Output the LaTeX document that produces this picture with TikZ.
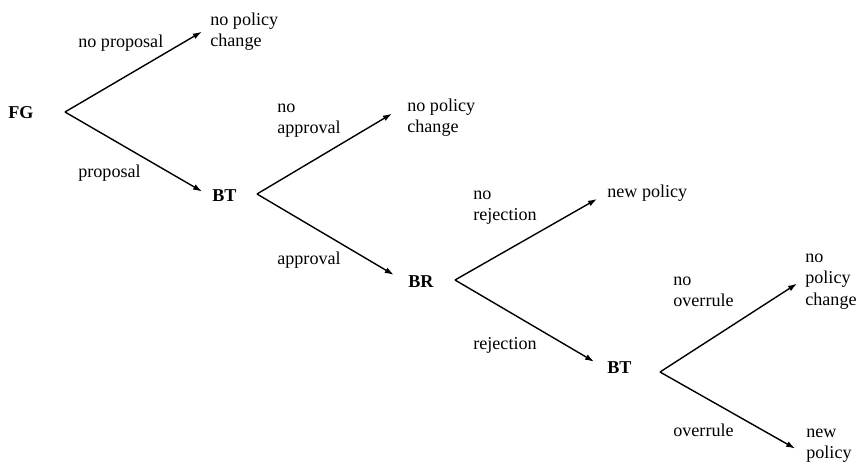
\documentclass[tikz,border=0pt]{standalone}
\usepackage{fontspec}
\setmainfont{Liberation Serif}
\usetikzlibrary{arrows.meta,calc}
\begin{document}
\begin{tikzpicture}[x=0.02cm,y=-0.02cm,
        texto/.style={inner sep=0pt,anchor=north west,align=left,
            font=\fontsize{10.3}{12.2}\selectfont},
        jugador/.style={texto,font=\fontsize{10.3}{12.2}\selectfont\bfseries},
        jugada/.style={line width=0.8pt,-{Latex[length=1.8mm,width=1.2mm]}}]
            \useasboundingbox (0,0) rectangle (857,462);

            % Jugadores
            \node[jugador] (fg) at (8,103.2) {\strut FG};
            \node[jugador] (bt1) at (212,186.2) {\strut BT};
            \node[jugador] (br) at (408,272.2) {\strut BR};
            \node[jugador] (bt2) at (607,358.2) {\strut BT};
            \coordinate (fgv) at (65,112);
            \coordinate (bt1v) at (257,194);
            \coordinate (brv) at (455,280);
            \coordinate (bt2v) at (660,372);

            % Resultados
            \node[texto] (npc1) at (210,10.2) {\strut no policy\\change};
            \node[texto] (npc2) at (407,96.2) {\strut no policy\\change};
            \node[texto] (np1) at (607,182.2) {\strut new policy};
            \node[texto] (npc3) at (805,247.2) {\strut no\\policy\\change};
            \node[texto] (np2) at (806,422.2) {\strut new\\policy};

            % Jugadas
            \draw[jugada,shorten >=1.9mm] (fgv) -- ($(npc1.west)+(0,-3.8)$);
            \draw[jugada,shorten >=2.3mm] (fgv) -- (bt1.west);
            \draw[jugada,shorten >=3.5mm] (bt1v) -- ($(npc2.west)+(0,-12)$);
            \draw[jugada,shorten >=3.3mm] (bt1v) -- (br.west);
            \draw[jugada,shorten >=2.3mm] (brv) -- (np1.west);
            \draw[jugada,shorten >=3mm] (brv) -- (bt2.west);
            \draw[jugada,shorten >=1.9mm] (bt2v) -- (npc3.west);
            \draw[jugada,shorten >=2.5mm] (bt2v) -- ($(np2.west)+(0,12)$);

            % Etiquetas de las jugadas
            \node[texto] (lnp) at (78,32.2) {\strut no proposal};
            \node[texto] (lp) at (78,162.2) {\strut proposal};
            \node[texto] (lna) at (277,97.2) {\strut no\\approval};
            \node[texto] (la) at (277,249.2) {\strut approval};
            \node[texto] (lnr) at (473,184.2) {\strut no\\rejection};
            \node[texto] (lr) at (473,334.2) {\strut rejection};
            \node[texto] (lno) at (673,270.2) {\strut no\\overrule};
            \node[texto] (lo) at (673,421.2) {\strut overrule};
        \end{tikzpicture}
\end{document}
